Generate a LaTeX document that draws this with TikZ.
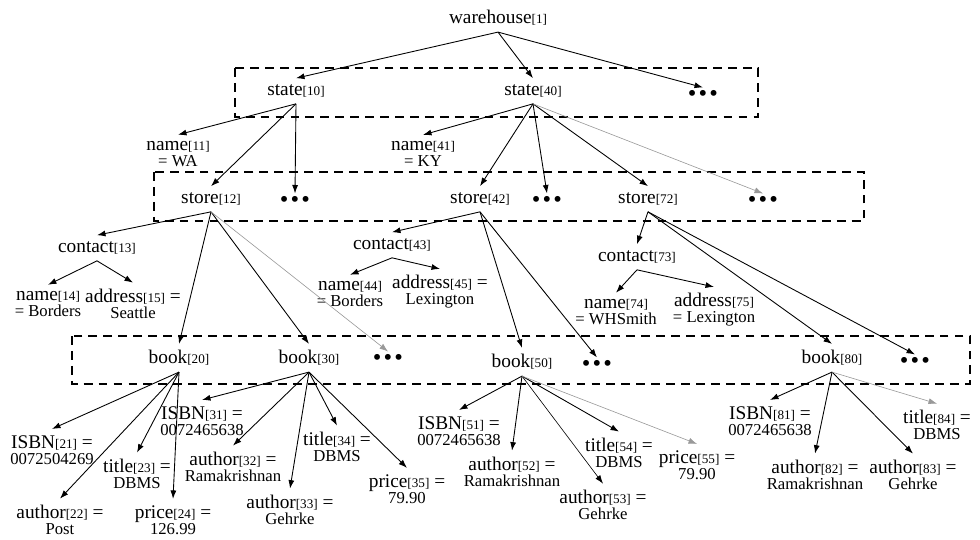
\documentclass[tikz,border=0pt]{standalone}
\usepackage{fontspec}
\setmainfont{Liberation Serif}
\usetikzlibrary{arrows.meta}

\newcommand{\tagname}[2]{#1{\fontsize{7.5}{8}\selectfont[#2]}}
\newcommand{\tagval}[1]{{\fontsize{9.5}{9}\selectfont #1}}
\newcommand{\moredots}{\textbullet\hspace{1.2pt}\textbullet\hspace{1.2pt}\textbullet}

\begin{document}
\begin{tikzpicture}[x=0.02cm, y=-0.02cm,
    elem/.style={font=\fontsize{11}{9.2}\selectfont, align=center, inner sep=3.5pt},
    etc/.style={font=\fontsize{14}{14}\selectfont, inner sep=1.5pt},
    link/.style={-{Latex[length=1.7mm,width=1.2mm]}, line width=0.5pt},
    faint/.style={link, draw=black!40, line width=0.35pt},
    layer/.style={line width=1.3pt, dash pattern=on 5pt off 3.5pt}]
    \useasboundingbox (0,0) rectangle (980,539);

    % Dashed levels
    \draw[layer] (235,68) rectangle (758,117);
    \draw[layer] (154,172) rectangle (864,221);
    \draw[layer] (72,336) rectangle (970,384);

    % Root and states
    \node[elem] (wh) at (498,18) {\tagname{warehouse}{1}};
    \node[elem] (s10) at (296,91) {\tagname{state}{10}};
    \node[elem] (s40) at (533,91) {\tagname{state}{40}};
    \node[etc] (d1) at (703,96) {\moredots};

    % Names and stores
    \node[elem] (n11) at (178,154) {\tagname{name}{11}\\\tagval{= WA}};
    \node[elem] (n41) at (423,154) {\tagname{name}{41}\\\tagval{= KY}};
    \node[elem] (st12) at (211,199) {\tagname{store}{12}};
    \node[etc] (d2) at (295,202) {\moredots};
    \node[elem] (st42) at (480,199) {\tagname{store}{42}};
    \node[etc] (d3) at (547,202) {\moredots};
    \node[elem] (st72) at (648,199) {\tagname{store}{72}};
    \node[etc] (d4) at (763,202) {\moredots};

    % Contacts
    \node[elem] (c13) at (97,248) {\tagname{contact}{13}};
    \node[elem] (n14) at (48,304) {\tagname{name}{14}\\\tagval{= Borders}};
    \node[elem] (a15) at (133,304) {\tagname{address}{15} =\\\tagval{Seattle}};
    \node[elem] (c43) at (392,245) {\tagname{contact}{43}};
    \node[elem] (n44) at (350,294) {\tagname{name}{44}\\\tagval{= Borders}};
    \node[elem] (a45) at (440,292) {\tagname{address}{45} =\\\tagval{Lexington}};
    \node[elem] (c73) at (637,257) {\tagname{contact}{73}};
    \node[elem] (n74) at (616,312) {\tagname{name}{74}\\\tagval{= WHSmith}};
    \node[elem] (a75) at (714,310) {\tagname{address}{75}\\\tagval{= Lexington}};

    % Books
    \node[elem] (b20) at (179,358) {\tagname{book}{20}};
    \node[elem] (b30) at (309,358) {\tagname{book}{30}};
    \node[etc] (d5) at (388,360) {\moredots};
    \node[elem] (b50) at (522,362) {\tagname{book}{50}};
    \node[etc] (d6) at (597,366) {\moredots};
    \node[elem] (b80) at (832,358) {\tagname{book}{80}};
    \node[etc] (d7) at (915,363) {\moredots};

    % Book fields
    \node[elem] (i21) at (52,450) {\tagname{ISBN}{21} =\\\tagval{0072504269}};
    \node[elem] (a22) at (60,520) {\tagname{author}{22} =\\\tagval{Post}};
    \node[elem] (t23) at (137,474) {\tagname{title}{23} =\\\tagval{DBMS}};
    \node[elem] (p24) at (173,520) {\tagname{price}{24} =\\\tagval{126.99}};
    \node[elem] (i31) at (202,421) {\tagname{ISBN}{31} =\\\tagval{0072465638}};
    \node[elem] (a32) at (233,467) {\tagname{author}{32} =\\\tagval{Ramakrishnan}};
    \node[elem] (a33) at (290,510) {\tagname{author}{33} =\\\tagval{Gehrke}};
    \node[elem] (t34) at (337,447) {\tagname{title}{34} =\\\tagval{DBMS}};
    \node[elem] (p35) at (407,489) {\tagname{price}{35} =\\\tagval{79.90}};
    \node[elem] (i51) at (459,431) {\tagname{ISBN}{51} =\\\tagval{0072465638}};
    \node[elem] (a52) at (512,472) {\tagname{author}{52} =\\\tagval{Ramakrishnan}};
    \node[elem] (a53) at (603,505) {\tagname{author}{53} =\\\tagval{Gehrke}};
    \node[elem] (t54) at (619,453) {\tagname{title}{54} =\\\tagval{DBMS}};
    \node[elem] (p55) at (697,465) {\tagname{price}{55} =\\\tagval{79.90}};
    \node[elem] (i81) at (770,421) {\tagname{ISBN}{81} =\\\tagval{0072465638}};
    \node[elem] (a82) at (815,475) {\tagname{author}{82} =\\\tagval{Ramakrishnan}};
    \node[elem] (a83) at (913,475) {\tagname{author}{83} =\\\tagval{Gehrke}};
    \node[elem] (t84) at (937,425) {\tagname{title}{84} =\\\tagval{DBMS}};

    % Edges
    \foreach \c in {s10,s40,d1} \draw[link] (wh.south) -- (\c.north);
    \foreach \c in {n11,st12,d2} \draw[link] (s10.south) -- (\c.north);
    \foreach \c in {n41,st42,d3,st72} \draw[link] (s40.south) -- (\c.north);
    \draw[faint] (s40.south) -- (d4.north);
    \foreach \c in {c13,b20,b30} \draw[link] (st12.south) -- (\c.north);
    \draw[faint] (st12.south) -- (d5.north);
    \foreach \c in {c43,b50,d6} \draw[link] (st42.south) -- (\c.north);
    \foreach \c in {c73,b80,d7} \draw[link] (st72.south) -- (\c.north);
    \foreach \c in {n14,a15} \draw[link] (c13.south) -- (\c.north);
    \foreach \c in {n44,a45} \draw[link] (c43.south) -- (\c.north);
    \foreach \c in {n74,a75} \draw[link] (c73.south) -- (\c.north);
    \foreach \c in {i21,a22,t23,p24} \draw[link] (b20.south) -- (\c.north);
    \foreach \c in {i31,a32,a33,t34,p35} \draw[link] (b30.south) -- (\c.north);
    \foreach \c in {i51,a52,t54} \draw[link] (b50.south) -- (\c.north);
    \draw[link, line width=0.35pt] (b50.south) -- (a53.north);
    \draw[faint] (b50.south) -- (p55.north);
    \foreach \c in {i81,a82,a83} \draw[link] (b80.south) -- (\c.north);
    \draw[faint] (b80.south) -- (t84.north);
\end{tikzpicture}
\end{document}
